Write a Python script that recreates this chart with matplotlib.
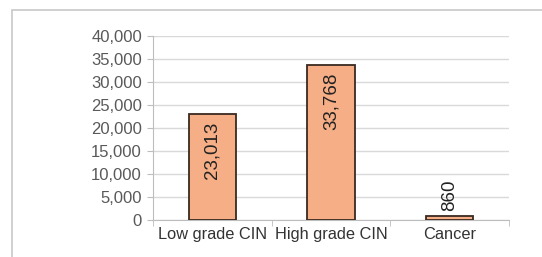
import matplotlib.pyplot as plt
import matplotlib.patches as mpatches
from matplotlib.ticker import FuncFormatter, FixedLocator

categories = ["Low grade CIN", "High grade CIN", "Cancer"]
values = [23013, 33768, 860]
value_labels = ["23,013", "33,768", "860"]
yticks = [0, 5000, 10000, 15000, 20000, 25000, 30000, 35000, 40000]

plt.rcParams['font.family'] = ['Liberation Sans', 'DejaVu Sans']

fig = plt.figure(figsize=(5.42, 2.57), dpi=100)
fig.patch.set_facecolor('white')

# outer chart frame
frame = mpatches.Rectangle((12/542, -0.05), 1.0, (257-10)/257 + 0.05, transform=fig.transFigure,
                           fill=False, edgecolor='#c8c8c8', linewidth=1.2)
fig.add_artist(frame)

ax = fig.add_axes([153/542, (257-220)/257, (509-153)/542, (220-36)/257])
x = list(range(len(categories)))
ax.bar(x, values, width=0.4, color='#F5AE86', edgecolor='#3a2a20', linewidth=1.3, zorder=3)

ax.set_xlim(-0.5, 2.5)
ax.set_ylim(0, 40000)
ax.yaxis.set_major_locator(FixedLocator(yticks))
ax.yaxis.set_major_formatter(FuncFormatter(lambda v, p: f"{int(v):,}"))
ax.grid(axis='y', color='#d9d9d9', linewidth=1.0, zorder=0)
ax.set_axisbelow(True)

for s in ['top', 'right']:
    ax.spines[s].set_visible(False)
ax.spines['left'].set_color('#bdbdbd')
ax.spines['bottom'].set_color('#bdbdbd')

ax.set_xticks(x)
ax.set_xticklabels(categories, fontsize=11.8, color='#333333')
ax.tick_params(axis='x', length=0, pad=5)
ax.set_xticks([-0.5, 0.5, 1.5, 2.5], minor=True)
ax.tick_params(axis='x', which='minor', length=4, color='#bdbdbd')
ax.tick_params(axis='y', labelsize=12, labelcolor='#595959', length=4, color='#bdbdbd', pad=4)

for xi, v, lab in zip(x, values, value_labels):
    if v > 5000:
        ax.text(xi, v - 1700, lab, rotation=90, ha='center', va='top', fontsize=13.5, color='#222222', zorder=4)
    else:
        ax.text(xi, v + 1000, lab, rotation=90, ha='center', va='bottom', fontsize=13.5, color='#222222', zorder=4)

fig.savefig('out.png', dpi=100)
